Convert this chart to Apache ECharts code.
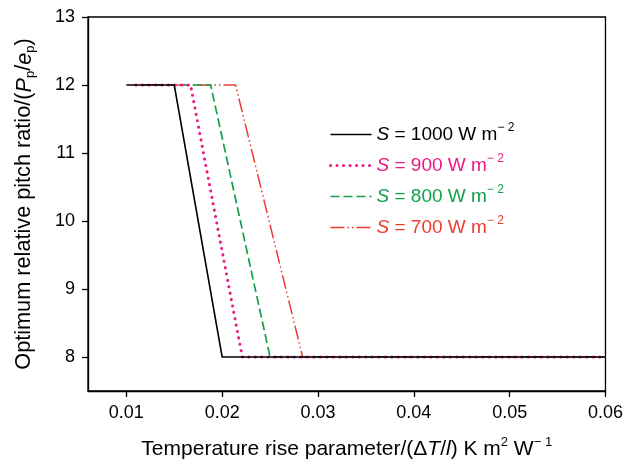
<!DOCTYPE html>
<html><head><meta charset="utf-8">
<script src="https://cdn.jsdelivr.net/npm/echarts@6/dist/echarts.min.js"></script>
<style>html,body{margin:0;padding:0;background:#fff}#c{width:626px;height:465px}</style>
</head><body><div id="c"></div>
<script>
// Data
const seriesNames = ['S1000', 'S900', 'S800', 'S700'];
const legendLabels = ['1000', '900', '800', '700'];
const x1000 = [0.010, 0.0150, 0.0200, 0.060];
const y1000 = [12, 12, 8, 8];
const x900 = [0.011, 0.0167, 0.0221, 0.060];
const y900 = [12, 12, 8, 8];
const x800 = [0.0115, 0.0188, 0.0250, 0.060];
const y800 = [12, 12, 8, 8];
const x700 = [0.012, 0.0214, 0.0284, 0.060];
const y700 = [12, 12, 8, 8];
const xTicks = [0.01, 0.02, 0.03, 0.04, 0.05, 0.06];
const yTicks = [8, 9, 10, 11, 12, 13];

const colors = ['#000000', '#ea1a86', '#12a04a', '#ee3b2f'];
const FONT = 'Liberation Sans';
const zip = (xs, ys) => xs.map((v, i) => [v, ys[i]]);
const allX = [x1000, x900, x800, x700];
const allY = [y1000, y900, y800, y700];
const lineStyles = [
  { width: 1.6, type: 'solid' },
  { width: 3, type: [0.1, 6.4], cap: 'round' },
  { width: 1.7, type: [9, 4] },
  { width: 1.5, type: [14, 3, 1.5, 3, 1.5, 3] }
];

const chart = echarts.init(document.getElementById('c'), null, { renderer: 'canvas' });
const richName = (fs) => ({
  i: { fontStyle: 'italic', fontFamily: FONT, fontSize: fs },
  sup: { fontSize: 13, fontFamily: FONT, padding: [0, 0, 14, 0] },
  sub: { fontSize: 13, fontFamily: FONT, padding: [12, 0, 0, 0] }
});
const richLegend = {
  i: { fontStyle: 'italic', fontFamily: FONT, fontSize: 19 },
  sup: { fontSize: 12, fontFamily: FONT, padding: [0, 0, 13, 0] }
};
chart.setOption({
  animation: false,
  grid: { left: 88, right: 17, top: 17, bottom: 74, show: true, borderColor: '#000', borderWidth: 1.3, backgroundColor: 'transparent' },
  legend: {
    orient: 'vertical', left: 324, top: 117, itemWidth: 41, itemHeight: 14, itemGap: 9,
    itemStyle: { opacity: 0 },
    data: seriesNames.map((n, i) => ({
      name: n, textStyle: { color: colors[i] },
      lineStyle: Object.assign({ color: colors[i] }, lineStyles[i])
    })),
    formatter: name => '{i|S} = ' + legendLabels[seriesNames.indexOf(name)] + ' W m{sup|− 2}',
    textStyle: { fontFamily: FONT, fontSize: 19, rich: richLegend }
  },
  xAxis: {
    type: 'value', min: 0.006, max: 0.06, interval: 0.002,
    axisLine: { show: true, lineStyle: { color: '#000', width: 1.3 } },
    axisTick: { show: true, customValues: xTicks, length: 6, lineStyle: { color: '#000', width: 1.3 } },
    axisLabel: { customValues: xTicks, color: '#000', fontFamily: FONT, fontSize: 18, margin: 13,
      formatter: v => v.toFixed(2) },
    splitLine: { show: false },
    name: 'Temperature rise parameter/(Δ{i|T}/{i|l}) K m{sup|2} W{sup|− 1}',
    nameLocation: 'middle', nameGap: 45,
    nameTextStyle: { color: '#000', fontFamily: FONT, fontSize: 21, rich: richName(21) }
  },
  yAxis: {
    type: 'value', min: 7.5, max: 13, interval: 0.5,
    axisLine: { show: true, lineStyle: { color: '#000', width: 1.3 } },
    axisTick: { show: true, customValues: yTicks, length: 6, lineStyle: { color: '#000', width: 1.3 } },
    axisLabel: { customValues: yTicks, color: '#000', fontFamily: FONT, fontSize: 18, margin: 13 },
    splitLine: { show: false },
    name: 'Optimum relative pitch ratio/({i|P}{sub|p}/{i|e}{sub|p})',
    nameLocation: 'middle', nameGap: 51, nameRotate: 90,
    nameTextStyle: { color: '#000', fontFamily: FONT, fontSize: 21.7, rich: richName(21.7) }
  },
  series: seriesNames.map((n, i) => ({
    name: n, type: 'line', data: zip(allX[i], allY[i]),
    symbol: 'none', showSymbol: false, z: 10 - i,
    lineStyle: Object.assign({ color: colors[i] }, lineStyles[i]),
    itemStyle: { color: colors[i] }
  }))
});
</script></body></html>
